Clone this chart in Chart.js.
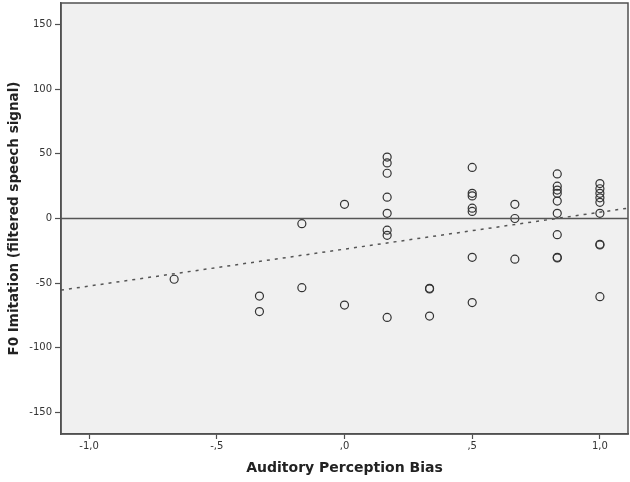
<!DOCTYPE html>
<html>
<head>
<meta charset="utf-8">
<script src="https://cdn.jsdelivr.net/npm/chart.js@4.4.0/dist/chart.umd.min.js"></script>
<style>
    html, body { margin: 0; padding: 0; background: #ffffff; }
    #scatter-chart { display: block; }
</style>
</head>
<body>
<canvas id="scatter-chart" width="630" height="482"></canvas>
<script>
// values
var biasX = [
    -0.667,
    -0.333, -0.333,
    -0.167, -0.167,
    0, 0,
    0.167, 0.167, 0.167, 0.167, 0.167, 0.167, 0.167, 0.167,
    0.333, 0.333, 0.333,
    0.5, 0.5, 0.5, 0.5, 0.5, 0.5, 0.5,
    0.667, 0.667, 0.667,
    0.833, 0.833, 0.833, 0.833, 0.833, 0.833, 0.833, 0.833, 0.833,
    1, 1, 1, 1, 1, 1, 1, 1, 1
];
var imitationY = [
    -47,
    -60, -72,
    -4, -53.5,
    11, -67,
    47.5, 43, 35, 16.5, 4, -9, -13, -76.5,
    -54, -54.5, -75.5,
    39.5, 19.5, 17.5, 8, 5.5, -30, -65,
    11, 0, -31.5,
    34.5, 25, 22, 19.5, 13.5, 4, -12.5, -30, -30.5,
    27, 23, 19.5, 16, 12.5, 4, -20, -20.5, -60.5
];
// fit line end points (at the plot edges)
var fitX = [-1.11, 1.11];
var fitY = [-55.4, 8.0];
var zeroY = [0, 0];

var xTicks = [-1, -0.5, 0, 0.5, 1];
var xTickLabels = ['-1,0', '-,5', ',0', ',5', '1,0'];
var yTicks = [-150, -100, -50, 0, 50, 100, 150];

var xMin = -1.11, xMax = 1.11;
var yMin = -166.7, yMax = 166.7;

function toPoints(xs, ys) {
    return xs.map(function (x, i) { return { x: x, y: ys[i] }; });
}

function noOverflow(scale) {
    scale.paddingTop = 0;
    scale.paddingBottom = 0;
    scale.paddingLeft = 0;
    scale.paddingRight = 0;
}

var frameColor = '#505050';

var plotFrame = {
    id: 'plotFrame',
    beforeDraw: function (chart) {
        var a = chart.chartArea;
        var ctx = chart.ctx;
        ctx.save();
        ctx.fillStyle = '#f0f0f0';
        ctx.fillRect(a.left, a.top, a.right - a.left, a.bottom - a.top);
        ctx.restore();
    },
    afterDraw: function (chart) {
        var a = chart.chartArea;
        var ctx = chart.ctx;
        ctx.save();
        ctx.strokeStyle = frameColor;
        ctx.lineWidth = 1.5;
        ctx.strokeRect(a.left, a.top, a.right - a.left, a.bottom - a.top);
        ctx.restore();
    }
};

var tickFont = { family: 'DejaVu Sans', size: 10 };
var titleFont = { family: 'DejaVu Sans', size: 14, weight: 'bold', lineHeight: 1.2 };

new Chart(document.getElementById('scatter-chart').getContext('2d'), {
    type: 'scatter',
    data: {
        datasets: [
            {
                label: 'zero',
                type: 'line',
                data: toPoints(fitX, zeroY),
                borderColor: '#555555',
                borderWidth: 1.5,
                pointRadius: 0,
                fill: false
            },
            {
                label: 'fit',
                type: 'line',
                data: toPoints(fitX, fitY),
                borderColor: '#555555',
                borderWidth: 1.5,
                borderDash: [3, 5],
                pointRadius: 0,
                fill: false
            },
            {
                label: 'F0 Imitation',
                data: toPoints(biasX, imitationY),
                pointStyle: 'circle',
                pointRadius: 4,
                pointBorderWidth: 1.2,
                pointBorderColor: '#333333',
                pointBackgroundColor: 'rgba(0,0,0,0)'
            }
        ]
    },
    options: {
        responsive: false,
        animation: false,
        devicePixelRatio: 1,
        layout: { autoPadding: false, padding: { top: 3, right: 2, left: 0, bottom: 0 } },
        plugins: {
            legend: { display: false },
            tooltip: { enabled: false }
        },
        scales: {
            x: {
                type: 'linear',
                min: xMin,
                max: xMax,
                afterBuildTicks: function (scale) {
                    scale.ticks = xTicks.map(function (v) { return { value: v }; });
                },
                afterFit: function (scale) {
                    scale.height = 48;
                    noOverflow(scale);
                },
                ticks: {
                    font: tickFont,
                    color: '#333333',
                    padding: 1,
                    maxRotation: 0,
                    callback: function (v) {
                        var i = xTicks.indexOf(v);
                        return i >= 0 ? xTickLabels[i] : '';
                    }
                },
                grid: {
                    drawOnChartArea: false,
                    drawTicks: true,
                    tickLength: 5,
                    tickColor: frameColor,
                    tickWidth: 1.2
                },
                border: { display: true, color: frameColor, width: 1.5 },
                title: {
                    display: true,
                    text: 'Auditory Perception Bias',
                    font: titleFont,
                    color: '#222222',
                    padding: { top: 0, bottom: 5 }
                }
            },
            y: {
                type: 'linear',
                min: yMin,
                max: yMax,
                afterBuildTicks: function (scale) {
                    scale.ticks = yTicks.map(function (v) { return { value: v }; });
                },
                afterFit: function (scale) {
                    scale.width = 61;
                    noOverflow(scale);
                },
                ticks: {
                    font: tickFont,
                    color: '#333333',
                    padding: 3,
                    callback: function (v) { return String(v); }
                },
                grid: {
                    drawOnChartArea: false,
                    drawTicks: true,
                    tickLength: 6,
                    tickColor: frameColor,
                    tickWidth: 1.2
                },
                border: { display: true, color: frameColor, width: 1.5 },
                title: {
                    display: true,
                    text: 'F0 Imitation (filtered speech signal)',
                    font: { family: 'DejaVu Sans', size: 13.5, weight: 'bold', lineHeight: 1.2 },
                    color: '#222222',
                    padding: { top: 6, bottom: 0 }
                }
            }
        }
    },
    plugins: [plotFrame]
});
</script>
</body>
</html>
